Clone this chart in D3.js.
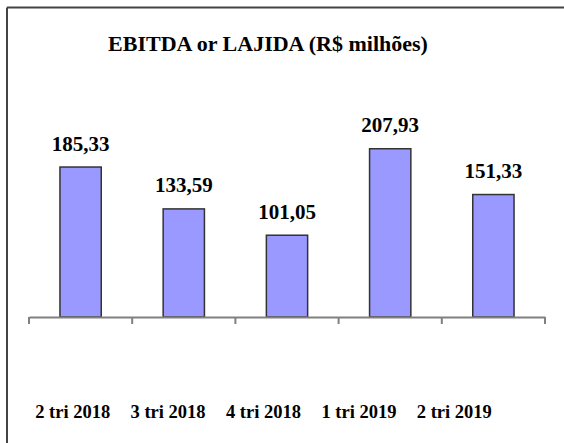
<!DOCTYPE html>
<html>
<head>
<meta charset="utf-8">
<script src="https://cdn.jsdelivr.net/npm/d3@7"></script>
<style>
  html, body { margin: 0; padding: 0; background: #fff; overflow: hidden; width: 564px; height: 443px; }
  svg { display: block; }
</style>
</head>
<body>
<div id="chart"></div>
<script type="text/javascript">
  const quarters = ['2 tri 2018', '3 tri 2018', '4 tri 2018', '1 tri 2019', '2 tri 2019'];
  const ebitda = [185.33, 133.59, 101.05, 207.93, 151.33];
  const title = 'EBITDA or LAJIDA (R$ milhões)';

  const width = 564,
    height = 443,
    font = "'Liberation Serif', 'Times New Roman', serif";

  const svg = d3.select('#chart').append('svg')
    .attr('width', width)
    .attr('height', height);

  // outer frame, only top and left sides show in the picture
  const frame = svg.append('g')
    .attr('stroke', '#444')
    .attr('stroke-width', 2);
  frame.append('line').attr('x1', 7).attr('x2', width).attr('y1', 7.5).attr('y2', 7.5);
  frame.append('line').attr('x1', 7).attr('x2', 7).attr('y1', 7.5).attr('y2', height);

  svg.append('text')
    .attr('x', 268)
    .attr('y', 51)
    .attr('text-anchor', 'middle')
    .attr('font-family', font)
    .attr('font-weight', 'bold')
    .attr('font-size', 22)
    .text(title);

  const x = d3.scaleBand()
    .domain(quarters)
    .range([29, 545])
    .paddingInner(0.6)
    .paddingOuter(0.3);

  // the category labels sit on their own spacing in the original
  const xLabel = d3.scaleBand()
    .domain(quarters)
    .range([25, 502]);

  const y = d3.scaleLinear()
    .domain([0, 250])
    .range([317, 114.7]);

  const bars = svg.append('g');
  bars.selectAll('rect')
    .data(ebitda)
    .enter()
    .append('rect')
    .attr('x', function(d, i) { return x(quarters[i]); })
    .attr('y', function(d) { return y(d); })
    .attr('width', x.bandwidth())
    .attr('height', function(d) { return y(0) - y(d); })
    .attr('fill', '#9999ff')
    .attr('stroke', '#333')
    .attr('stroke-width', 1.5);

  // axis line + ticks between categories
  const axis = svg.append('g')
    .attr('transform', 'translate(0,' + y(0) + ')')
    .call(d3.axisBottom(x).tickSize(0).tickFormat(''));
  axis.select('.domain').attr('stroke', '#808080').attr('stroke-width', 2);

  const step = x.step();
  const tickPos = d3.range(quarters.length + 1).map(function(i) { return x.range()[0] + i * step; });
  axis.selectAll('line.tk')
    .data(tickPos)
    .enter()
    .append('line')
    .attr('class', 'tk')
    .attr('x1', function(d) { return d; })
    .attr('x2', function(d) { return d; })
    .attr('y1', 0)
    .attr('y2', 7)
    .attr('stroke', '#808080')
    .attr('stroke-width', 2);

  svg.append('g').selectAll('text')
    .data(ebitda)
    .enter()
    .append('text')
    .attr('x', function(d, i) { return x(quarters[i]) + x.bandwidth() / 2; })
    .attr('y', function(d) { return y(d) - 16.5; })
    .attr('text-anchor', 'middle')
    .attr('font-family', font)
    .attr('font-weight', 'bold')
    .attr('font-size', 21)
    .text(function(d) { return d.toFixed(2).replace('.', ','); });

  svg.append('g').selectAll('text')
    .data(quarters)
    .enter()
    .append('text')
    .attr('x', function(d) { return xLabel(d) + xLabel.bandwidth() / 2; })
    .attr('y', 418)
    .attr('text-anchor', 'middle')
    .attr('font-family', font)
    .attr('font-weight', 'bold')
    .attr('font-size', 18.5)
    .text(function(d) { return d; });
</script>
</body>
</html>
